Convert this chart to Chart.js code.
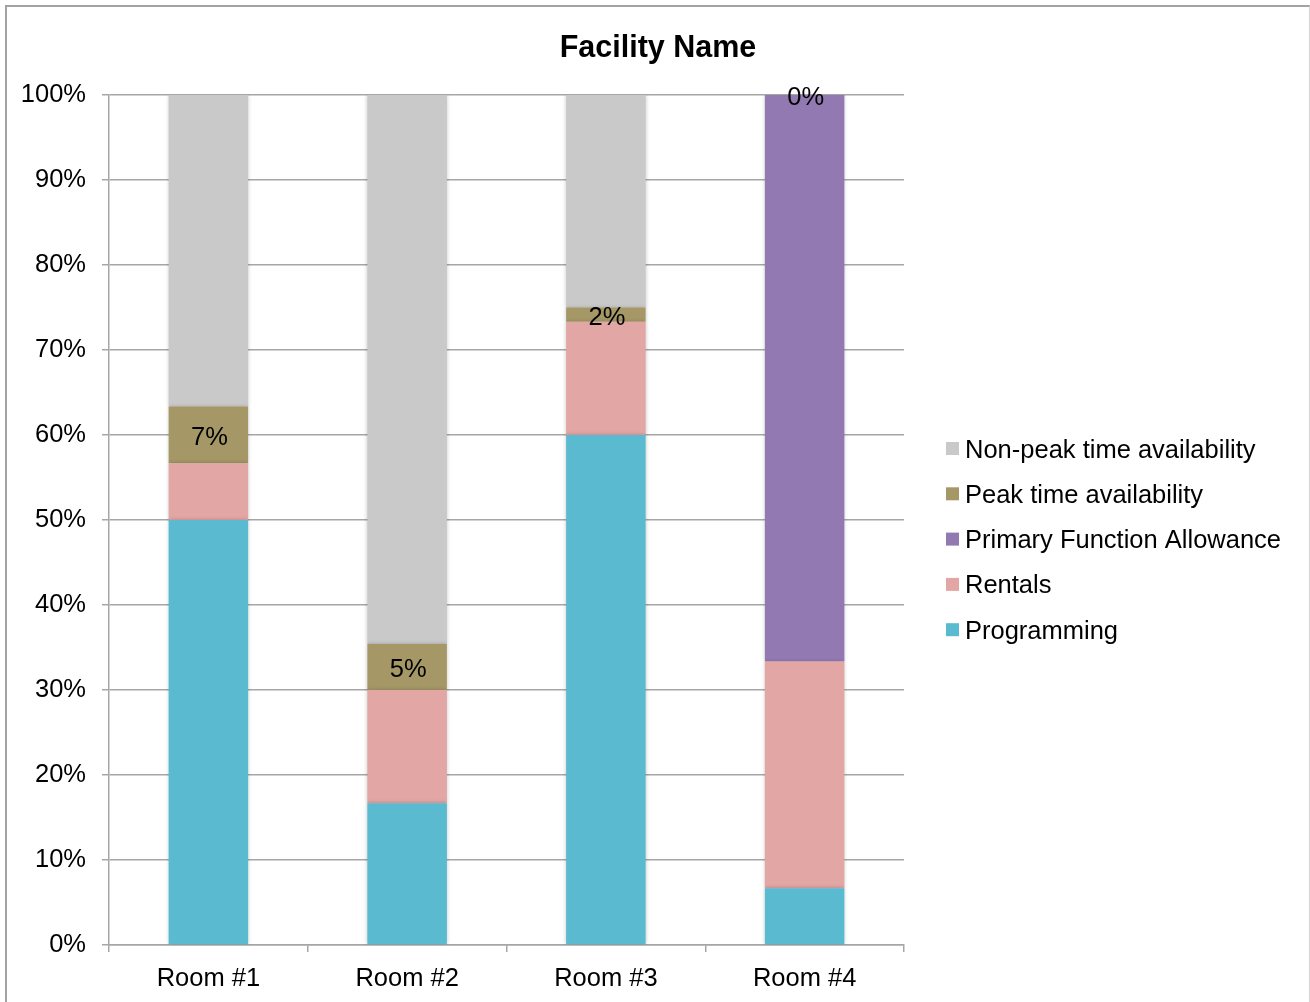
<!DOCTYPE html>
<html>
<head>
<meta charset="utf-8">
<title>Facility Name</title>
<script src="https://cdn.jsdelivr.net/npm/chart.js@4/dist/chart.umd.min.js"></script>
<style>
  html, body { margin: 0; padding: 0; background: #ffffff; }
  #wrap { position: relative; width: 1310px; height: 1002px; overflow: hidden; }
  #frame {
    position: absolute; left: 5px; top: 5px; width: 1302px; height: 1100px;
    border-top: 2px solid #a3a3a3; border-left: 2px solid #a3a3a3; border-right: 1px solid #d4d4d4;
    pointer-events: none;
  }
  canvas { display: block; }
</style>
</head>
<body>
<div id="wrap">
  <canvas id="chart" width="1310" height="1002"></canvas>
  <div id="frame"></div>
</div>
<script>
// Share of each room's time, in percent, per use
const categories = ['Room #1', 'Room #2', 'Room #3', 'Room #4'];
const programming     = [50.0, 16.67, 60.0, 6.67];
const rentals         = [6.67, 13.33, 13.33, 26.67];
const primaryFunction = [0, 0, 0, 66.66];
const peakTime        = [6.67, 5.4, 1.67, 0];
const nonPeakTime     = [36.66, 64.6, 25.0, 0];
const yTickValues = [0, 10, 20, 30, 40, 50, 60, 70, 80, 90, 100];

const FONT = "'Liberation Sans', Arial, Helvetica, sans-serif";
const TEXT_SIZE = 25.5;
const GRID = '#a6a6a6';

// Soft edge shadow around the columns
const barShadow = {
  id: 'barShadow',
  beforeDatasetsDraw(chart) {
    const ctx = chart.ctx;
    ctx.save();
    ctx.shadowColor = 'rgba(0,0,0,0.22)';
    ctx.shadowBlur = 4;
  },
  afterDatasetsDraw(chart) {
    chart.ctx.restore();
  }
};

// Percentage labels on the peak-time segments
const peakLabels = {
  id: 'peakLabels',
  afterDatasetsDraw(chart) {
    const idx = chart.data.datasets.findIndex(d => d.label === 'Peak time availability');
    const meta = chart.getDatasetMeta(idx);
    const ctx = chart.ctx;
    ctx.save();
    ctx.font = TEXT_SIZE + 'px ' + FONT;
    ctx.fillStyle = '#000000';
    ctx.textAlign = 'center';
    ctx.textBaseline = 'middle';
    meta.data.forEach((bar, i) => {
      const p = bar.getProps(['x', 'y', 'base'], true);
      const v = chart.data.datasets[idx].data[i];
      ctx.fillText(Math.round(v) + '%', p.x + 1, (p.y + p.base) / 2 + 3);
    });
    ctx.restore();
  }
};

// Legend column to the right of the plot, top series first
const sideLegend = {
  id: 'sideLegend',
  afterDraw(chart) {
    const ctx = chart.ctx;
    const area = chart.chartArea;
    const items = chart.data.datasets.slice().reverse();
    const boxX = area.right + 42;
    const firstY = 449;
    const step = 45.3;
    ctx.save();
    ctx.font = TEXT_SIZE + 'px ' + FONT;
    ctx.textBaseline = 'middle';
    ctx.textAlign = 'left';
    items.forEach((ds, i) => {
      const y = firstY + i * step;
      ctx.fillStyle = ds.backgroundColor;
      ctx.fillRect(boxX, y - 7, 13, 13);
      ctx.fillStyle = '#000000';
      ctx.fillText(ds.label, boxX + 19, y + 1.5);
    });
    ctx.restore();
  }
};

new Chart(document.getElementById('chart'), {
  type: 'bar',
  data: {
    labels: categories,
    datasets: [
      { label: 'Programming', data: programming, backgroundColor: '#59bad0' },
      { label: 'Rentals', data: rentals, backgroundColor: '#e2a6a5' },
      { label: 'Primary Function Allowance', data: primaryFunction, backgroundColor: '#9279b1' },
      { label: 'Peak time availability', data: peakTime, backgroundColor: '#a59866' },
      { label: 'Non-peak time availability', data: nonPeakTime, backgroundColor: '#c9c9c9' }
    ]
  },
  options: {
    responsive: false,
    animation: false,
    devicePixelRatio: 1,
    layout: { padding: { left: 6, right: 0, top: 0, bottom: 0 } },
    datasets: { bar: { categoryPercentage: 1.0, barPercentage: 0.4, borderWidth: 0 } },
    plugins: {
      legend: { display: false },
      tooltip: { enabled: false },
      title: {
        display: true,
        text: 'Facility Name',
        color: '#000000',
        font: { family: FONT, size: 30.5, weight: 'bold' },
        padding: { top: 30, bottom: 28.4 }
      }
    },
    scales: {
      x: {
        stacked: true,
        offset: true,
        grid: { display: true, offset: true, drawOnChartArea: false, drawTicks: true, tickLength: 7, color: GRID, lineWidth: 1.5 },
        border: { display: true, color: GRID, width: 1.5 },
        ticks: { color: '#000000', font: { family: FONT, size: TEXT_SIZE }, padding: 12, maxRotation: 0 },
        afterFit(s) { s.height = 57; }
      },
      y: {
        stacked: true,
        min: 0,
        max: 100,
        afterBuildTicks(s) { s.ticks = yTickValues.map(v => ({ value: v })); },
        grid: { color: GRID, lineWidth: 1.5, tickLength: 7 },
        border: { display: true, color: GRID, width: 1.5 },
        ticks: { color: '#000000', font: { family: FONT, size: TEXT_SIZE }, padding: 16, callback: v => v + '%' },
        afterFit(s) { s.width = 103; }
      },
      legendSpace: {
        type: 'linear',
        position: 'right',
        display: true,
        grid: { display: false, drawTicks: false },
        border: { display: false },
        ticks: { display: false },
        afterFit(s) { s.width = 406; }
      }
    }
  },
  plugins: [barShadow, peakLabels, sideLegend]
});
</script>
</body>
</html>
